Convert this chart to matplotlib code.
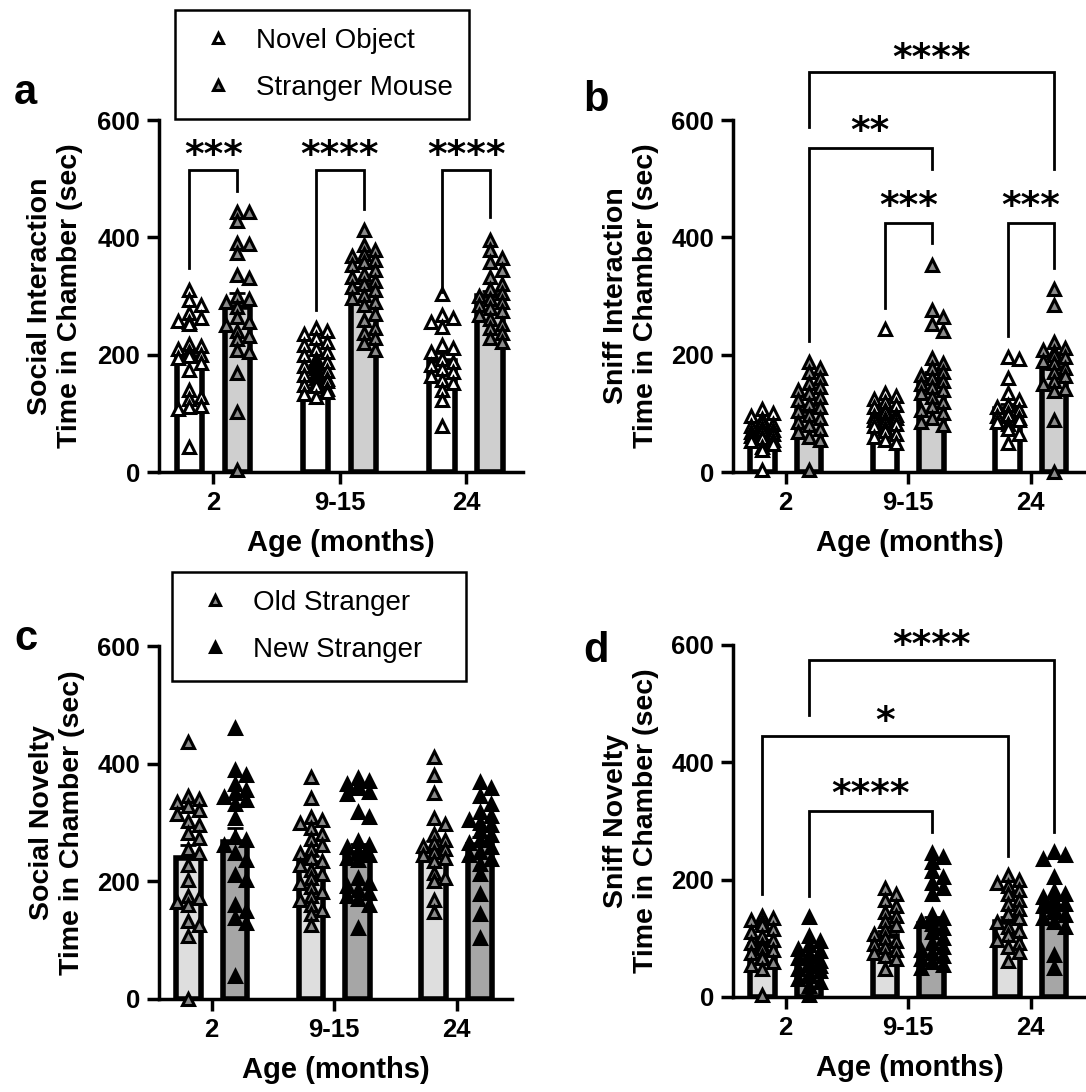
import numpy as np
import matplotlib
matplotlib.use('Agg')
import matplotlib.pyplot as plt
from matplotlib.lines import Line2D

plt.rcParams['font.family'] = ['Liberation Sans', 'DejaVu Sans']

W, H = 1086, 1092

ages = ['2', '9-15', '24']

# ---------------- Panel a : Social interaction ----------------
a_novel_mean = [196, 176, 190]
a_novel_sem = [14, 6, 13]
a_stranger_mean = [281, 312, 300]
a_stranger_sem = [24, 10, 9]
a_novel_pts = [
    [310, 293, 285, 271, 262, 258, 255, 252, 218, 215, 210, 205, 200, 198, 195, 185, 174, 140, 128, 125, 112, 110, 108, 43],
    [246, 240, 236, 228, 221, 217, 210, 204, 199, 193, 188, 185, 181, 177, 172, 169, 165, 161, 158, 155, 151, 149, 146, 141, 137, 133, 127],
    [303, 268, 262, 256, 247, 217, 211, 205, 192, 187, 182, 176, 170, 163, 157, 151, 140, 122, 78],
]
a_stranger_pts = [
    [443, 443, 428, 390, 389, 374, 336, 330, 300, 295, 290, 282, 264, 255, 250, 241, 232, 226, 208, 205, 168, 102, 3],
    [412, 387, 378, 372, 368, 362, 358, 352, 345, 338, 332, 325, 320, 315, 310, 302, 296, 290, 284, 270, 259, 245, 237, 228, 220, 208],
    [395, 378, 365, 358, 344, 332, 320, 312, 305, 300, 295, 290, 285, 280, 275, 268, 260, 252, 245, 237, 228, 222],
]

# ---------------- Panel b : Sniff interaction ----------------
b_novel_mean = [65, 95, 107]
b_novel_sem = [6, 9, 9]
b_stranger_mean = [104, 157, 178]
b_stranger_sem = [10, 13, 16]
b_novel_pts = [
    [108, 100, 95, 90, 86, 82, 78, 75, 72, 70, 68, 65, 62, 60, 58, 55, 52, 48, 42, 38, 3],
    [244, 135, 130, 125, 120, 115, 110, 105, 102, 98, 95, 92, 90, 88, 85, 82, 78, 75, 70, 65, 60, 55, 50],
    [196, 192, 160, 134, 122, 115, 110, 105, 100, 98, 95, 92, 88, 86, 82, 74, 65, 50],
]
b_stranger_pts = [
    [187, 178, 170, 160, 152, 145, 140, 135, 128, 122, 116, 110, 104, 98, 92, 86, 80, 74, 68, 60, 55, 3],
    [353, 276, 264, 252, 241, 195, 185, 178, 170, 165, 160, 155, 150, 145, 140, 135, 128, 120, 113, 106, 100, 92, 86, 80],
    [312, 285, 222, 212, 208, 204, 200, 196, 190, 185, 178, 170, 163, 155, 150, 142, 138, 89, 0],
]

# ---------------- Panel c : Social novelty ----------------
c_old_mean = [240, 231, 252]
c_old_sem = [22, 12, 17]
c_new_mean = [267, 249, 262]
c_new_sem = [23, 15, 14]
c_old_pts = [
    [436, 345, 340, 335, 328, 322, 314, 302, 296, 282, 273, 255, 249, 228, 202, 175, 172, 165, 160, 133, 125, 107, 0],
    [378, 342, 310, 305, 300, 290, 280, 272, 262, 255, 248, 240, 235, 228, 220, 212, 205, 198, 190, 182, 175, 168, 160, 152, 145, 125],
    [412, 380, 350, 308, 298, 280, 270, 265, 260, 255, 250, 245, 240, 235, 215, 205, 200, 168, 148],
]
c_new_pts = [
    [460, 390, 380, 365, 356, 350, 344, 338, 332, 308, 275, 270, 262, 249, 237, 210, 202, 160, 150, 138, 130, 39],
    [375, 370, 365, 362, 358, 352, 348, 318, 310, 268, 262, 258, 252, 248, 244, 240, 236, 205, 198, 192, 185, 180, 175, 170, 160, 120],
    [368, 358, 345, 332, 318, 311, 305, 300, 296, 285, 278, 270, 265, 258, 250, 245, 238, 230, 212, 178, 145, 104],
]

# ---------------- Panel d : Sniff novelty ----------------
d_old_mean = [89, 104, 127]
d_old_sem = [8, 9, 10]
d_new_mean = [59, 125, 154]
d_new_sem = [7, 12, 13]
d_old_pts = [
    [138, 135, 132, 128, 122, 116, 110, 104, 98, 92, 88, 84, 80, 75, 70, 66, 60, 55, 48, 3],
    [185, 175, 165, 155, 145, 138, 130, 122, 115, 108, 100, 95, 90, 85, 80, 75, 70, 65, 48],
    [208, 200, 195, 190, 182, 175, 165, 158, 150, 142, 135, 128, 120, 112, 105, 98, 92, 85, 77, 62],
]
d_new_pts = [
    [136, 104, 95, 88, 82, 78, 74, 70, 66, 62, 58, 55, 52, 48, 44, 40, 35, 30, 25, 18, 3],
    [245, 238, 230, 215, 205, 195, 185, 175, 140, 135, 130, 125, 118, 110, 100, 92, 85, 80, 75, 70, 65, 60, 55, 50],
    [248, 242, 236, 205, 180, 175, 170, 165, 162, 158, 155, 150, 145, 140, 135, 128, 120, 72, 50],
]

# significance brackets: (left (group, series), right (group, series),
#                         left leg bottom, right leg bottom, top, star centre, label)
a_brackets = [((0, 0), (0, 1), 347, 479, 514, 554, '***'),
              ((1, 0), (1, 1), 276, 449, 514, 554, '****'),
              ((2, 0), (2, 1), 306, 434, 514, 554, '****')]
b_brackets = [((0, 1), (2, 1), 588, 516, 682, 719, '****'),
              ((0, 1), (1, 1), 223, 516, 552, 594, '**'),
              ((1, 0), (1, 1), 279, 390, 425, 466, '***'),
              ((2, 0), (2, 1), 232, 347, 425, 466, '***')]
c_brackets = []
d_brackets = [((0, 1), (2, 1), 480, 282, 574, 613, '****'),
              ((0, 0), (2, 0), 175, 240, 445, 483, '*'),
              ((0, 1), (1, 1), 172, 282, 317, 359, '****')]

# ---------------- styling ----------------
OFF = 0.19
BAR_W = 0.2
MS = 8.6
MEW = 2.2


def swarm_offsets(vals, w=0.09, h=15.0, limit=0.115):
    vals = np.asarray(vals, float)
    order = np.argsort(-vals, kind='stable')
    step = w / 2
    cands = [0.0]
    k = 1
    while k * step <= limit + 1e-9:
        cands += [k * step, -k * step]
        k += 1
    px, py = [], []
    offs = np.zeros(len(vals))
    for i in order:
        y = vals[i]
        best, best_conf = None, None
        for c in cands:
            conf = sum(1 for a, b in zip(px, py) if abs(a - c) < w and abs(b - y) < h)
            if conf == 0:
                best = c
                break
            if best_conf is None or conf < best_conf:
                best_conf, best = conf, c
        offs[i] = best
        px.append(best)
        py.append(y)
    return offs


def axrect(x0, x1, ytop, ybot):
    return [x0 / W, 1 - ybot / H, (x1 - x0) / W, (ybot - ytop) / H]


fig = plt.figure(figsize=(W / 100, H / 100), dpi=100)


def panel(rect, series, ylabel, brackets):
    ax = fig.add_axes(rect)
    x = np.arange(len(ages))
    for s, (means, sems, pts, bar_fc, mk_fc) in enumerate(series):
        xs = x + (OFF if s == 1 else -OFF)
        ax.bar(xs, means, width=BAR_W, color=bar_fc, edgecolor='black',
               linewidth=4, zorder=2)
        ax.errorbar(xs, means, yerr=[np.zeros(len(sems)), sems], fmt='none',
                    ecolor='black', elinewidth=2, capsize=6, capthick=2, zorder=3)
        for g in range(len(ages)):
            vals = np.asarray(pts[g], float)
            dx = swarm_offsets(vals)
            ax.plot(xs[g] + dx, vals, ls='none', marker='^', ms=MS, mfc=mk_fc,
                    mec='black', mew=MEW, zorder=4, clip_on=False)
    for (gl, sl), (gr, sr), yl, yr, yt, ys, lab in brackets:
        xl = gl + (OFF if sl == 1 else -OFF)
        xr = gr + (OFF if sr == 1 else -OFF)
        ax.plot([xl, xl, xr, xr], [yl, yt, yt, yr], color='black', lw=2,
                clip_on=False, zorder=5, solid_joinstyle='miter')
        ax.annotate(lab, xy=((xl + xr) / 2, ys), xytext=(0, -13.5),
                    textcoords='offset points', ha='center', va='baseline',
                    fontsize=27, fontweight='bold', family='DejaVu Sans',
                    annotation_clip=False)
    ax.set_xlim(-0.43, 2.45)
    ax.set_ylim(0, 600)
    ax.set_yticks([0, 200, 400, 600])
    ax.set_xticks(x)
    ax.set_xticklabels(ages)
    for sp in ['top', 'right']:
        ax.spines[sp].set_visible(False)
    for sp in ['left', 'bottom']:
        ax.spines[sp].set_linewidth(2.5)
    ax.spines['left'].set_bounds(0, 600)
    ax.tick_params(direction='out', length=8.5, width=2.5, labelsize=18.5, pad=5)
    for lab in ax.get_xticklabels() + ax.get_yticklabels():
        lab.set_fontweight('bold')
    ax.set_xlabel('Age (months)', fontsize=21, fontweight='bold', labelpad=10)
    ax.set_ylabel(ylabel, fontsize=20.5, fontweight='bold', linespacing=1.2)
    ax.yaxis.set_label_coords(-0.21, 0.5)
    ax.set_facecolor('none')
    return ax


WHITE = 'white'
LGRAY = '#cfcfcf'
MGRAY = '#8a8a8a'
OLD_BAR = '#dedede'
NEW_BAR = '#a6a6a6'
OLD_MK = '#8a8a8a'
NEW_MK = 'black'

ax_a = panel(axrect(159, 523, 120, 472),
             [(a_novel_mean, a_novel_sem, a_novel_pts, WHITE, WHITE),
              (a_stranger_mean, a_stranger_sem, a_stranger_pts, LGRAY, MGRAY)],
             'Social Interaction\nTime in Chamber (sec)', a_brackets)
ax_b = panel(axrect(733, 1086, 120, 472),
             [(b_novel_mean, b_novel_sem, b_novel_pts, WHITE, WHITE),
              (b_stranger_mean, b_stranger_sem, b_stranger_pts, LGRAY, MGRAY)],
             'Sniff Interaction\nTime in Chamber (sec)', b_brackets)
ax_c = panel(axrect(159, 512, 646, 999),
             [(c_old_mean, c_old_sem, c_old_pts, OLD_BAR, OLD_MK),
              (c_new_mean, c_new_sem, c_new_pts, NEW_BAR, NEW_MK)],
             'Social Novelty\nTime in Chamber (sec)', c_brackets)
ax_d = panel(axrect(733, 1086, 645, 997),
             [(d_old_mean, d_old_sem, d_old_pts, OLD_BAR, OLD_MK),
              (d_new_mean, d_new_sem, d_new_pts, NEW_BAR, NEW_MK)],
             'Sniff Novelty\nTime in Chamber (sec)', d_brackets)


def add_legend(labels, fcs, x0, ytop, w, h):
    handles = [Line2D([], [], ls='none', marker='^', ms=MS * 0.9, mfc=fc, mec='black', mew=MEW)
               for fc in fcs]
    leg = fig.legend(handles, labels, loc='upper left',
                     bbox_to_anchor=(x0 / W, 1 - (ytop + h) / H, w / W, h / H),
                     mode='expand', fontsize=20, frameon=True, fancybox=False,
                     edgecolor='black', framealpha=1, borderpad=0.65,
                     labelspacing=0.75, handlelength=1.8, handletextpad=0.45,
                     borderaxespad=0, numpoints=1)
    leg.get_frame().set_linewidth(1.8)
    return leg


add_legend(['Novel Object', 'Stranger Mouse'], [WHITE, MGRAY], 175, 10, 294, 107)
add_legend(['Old Stranger', 'New Stranger'], [OLD_MK, NEW_MK], 172, 572, 294, 108)

for letter, xp, yp in [('a', 14, 104), ('b', 583, 111), ('c', 14, 650), ('d', 583, 662)]:
    fig.text(xp / W, 1 - yp / H, letter, fontsize=30, fontweight='bold',
             ha='left', va='baseline')

fig.savefig('out.png', dpi=100)
